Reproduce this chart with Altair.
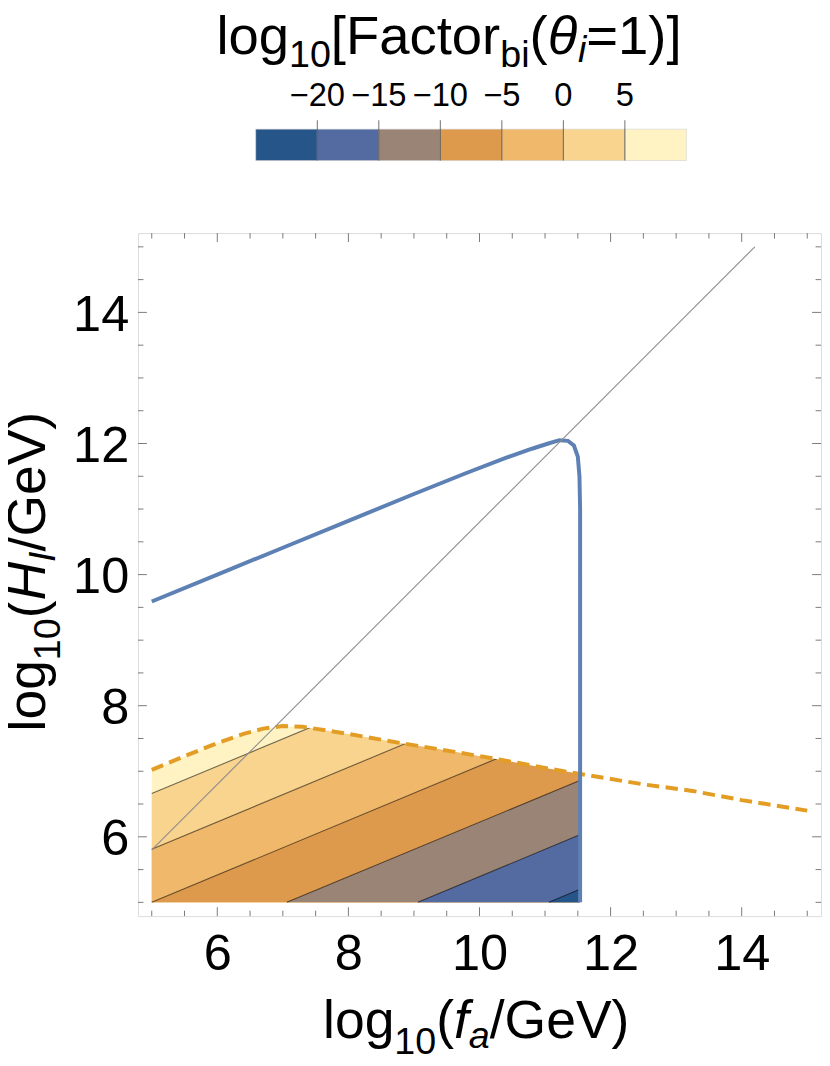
import altair as alt
import pandas as pd

FONT = "Liberation Sans"

# ---------------- values ----------------
x_domain = [4.79, 15.21]
y_domain = [4.79, 15.21]
x_tick_labels = [6, 8, 10, 12, 14]
y_tick_labels = [6, 8, 10, 12, 14]
major_ticks = [6, 8, 10, 12, 14]
minor_ticks = [5, 5.5, 6.5, 7, 7.5, 8.5, 9, 9.5, 10.5, 11, 11.5, 12.5, 13, 13.5, 14.5, 15]

# colour bins of log10[Factor]
bin_lo = [-25, -20, -15, -10, -5, 0, 5]
bin_hi = [-20, -15, -10, -5, 0, 5, 10]
bin_colors = ["#26558A", "#536BA0", "#9A8476", "#DE9A4C", "#EFB86B", "#F9D48E", "#FFF3C4"]
legend_tick_values = [-20, -15, -10, -5, 0, 5]
legend_tick_labels = ["\u221220", "\u221215", "\u221210", "\u22125", "0", "5"]

# filled region
region_x_max = 11.53
region_y_min = 5.0
mask_top = 9.6

# contour lines: level, start point, end point
contour_level = [5, 0, -5, -10, -15, -20]
contour_x0 = [5.0, 5.0, 5.0, 7.06, 9.06, 11.06]
contour_y0 = [6.66, 5.81, 5.0, 5.0, 5.0, 5.0]
contour_x1 = [11.53, 11.53, 11.53, 11.53, 11.53, 11.53]
contour_y1 = [9.38, 8.53, 7.72, 6.86, 6.03, 5.20]

# orange dashed boundary
dashed_x = [5.0, 5.5, 6.0, 6.4, 6.7, 7.0, 7.3, 8.0, 8.8, 9.6, 10.3, 11.0, 11.53, 12.5, 13.25, 14.0, 15.0]
dashed_y = [7.02, 7.23, 7.43, 7.57, 7.65, 7.69, 7.68, 7.57, 7.43, 7.30, 7.18, 7.05, 6.96, 6.80, 6.70, 6.56, 6.40]

# blue curve
blue_x = [5.0, 6.0, 7.0, 8.0, 9.0, 9.8, 10.4, 10.8, 11.05, 11.22, 11.35, 11.44, 11.5, 11.525, 11.535, 11.535]
blue_y = [9.59, 10.0, 10.41, 10.82, 11.23, 11.55, 11.78, 11.92, 12.0, 12.05, 12.04, 11.97, 11.8, 11.5, 11.0, 5.0]

# grey diagonal
diag_x = [5.0, 14.2]
diag_y = [5.8, 15.0]

# ---------------- layout constants ----------------
W, H = 690, 690
OX, OY = 139.3, 230.0     # page position of plot origin
FRAME = "#7a7a7a"
MAJ, MIN = 9, 5.5

bin_names = [f"{a}..{b}" for a, b in zip(bin_lo, bin_hi)]
color_scale = alt.Scale(domain=bin_names, range=bin_colors)

X = alt.X("x:Q", scale=alt.Scale(domain=x_domain, nice=False, zero=False),
          axis=alt.Axis(values=x_tick_labels, ticks=False, tickSize=0, domain=False, grid=False,
                        labelFont=FONT, labelFontSize=51, labelColor="black", labelPadding=13.5,
                        format="d"),
          title=None)
Y = alt.Y("y:Q", scale=alt.Scale(domain=y_domain, nice=False, zero=False),
          axis=alt.Axis(values=y_tick_labels, ticks=False, tickSize=0, domain=False, grid=False,
                        labelFont=FONT, labelFontSize=51, labelColor="black", labelPadding=9.3,
                        labelOffset=3, format="d"),
          title=None)

layers = []

# top band: from region bottom to dashed curve
top_pts = [(x, y) for x, y in zip(dashed_x, dashed_y) if x <= region_x_max]
top_df = pd.DataFrame({"x": [p[0] for p in top_pts], "y": [region_y_min] * len(top_pts),
                       "y2": [p[1] for p in top_pts], "bin": bin_names[-1]})
layers.append(alt.Chart(top_df).mark_area(orient="vertical").encode(
    x=X, y=Y, y2="y2:Q", color=alt.Color("bin:N", scale=color_scale, legend=None)))

# bands painted under each contour line (upper level k -> bin [k-5, k])
for lev, x0, y0, x1, y1 in zip(contour_level, contour_x0, contour_y0, contour_x1, contour_y1):
    name = bin_names[bin_hi.index(lev)]
    df = pd.DataFrame({"x": [x0, x1], "y": [region_y_min, region_y_min], "y2": [y0, y1], "bin": name})
    layers.append(alt.Chart(df).mark_area(orient="vertical").encode(
        x=X, y=Y, y2="y2:Q", color=alt.Color("bin:N", scale=color_scale, legend=None)))

# contour lines
rows = []
for lev, x0, y0, x1, y1 in zip(contour_level, contour_x0, contour_y0, contour_x1, contour_y1):
    rows += [{"x": x0, "y": y0, "lev": lev, "o": 0}, {"x": x1, "y": y1, "lev": lev, "o": 1}]
layers.append(alt.Chart(pd.DataFrame(rows)).mark_line(color="#000000", opacity=0.55, strokeWidth=1.1).encode(
    x=X, y=Y, detail="lev:N", order="o:Q"))

# white mask above the dashed boundary
mask_df = pd.DataFrame({"x": [p[0] for p in top_pts], "y": [p[1] for p in top_pts],
                        "y2": [mask_top] * len(top_pts)})
layers.append(alt.Chart(mask_df).mark_area(orient="vertical", color="white").encode(x=X, y=Y, y2="y2:Q"))

# dashed orange line
d_df = pd.DataFrame({"x": dashed_x, "y": dashed_y, "o": range(len(dashed_x))})
layers.append(alt.Chart(d_df).mark_line(color="#E39D25", strokeWidth=4, strokeDash=[12.5, 6.5]).encode(
    x=X, y=Y, order="o:Q"))

# blue curve
b_df = pd.DataFrame({"x": blue_x, "y": blue_y, "o": range(len(blue_x))})
layers.append(alt.Chart(b_df).mark_line(color="#5E81B5", strokeWidth=4).encode(x=X, y=Y, order="o:Q"))

# diagonal
g_df = pd.DataFrame({"x": diag_x, "y": diag_y})
layers.append(alt.Chart(g_df).mark_line(color="#8C8C8C", strokeWidth=1.1).encode(x=X, y=Y))

# inward ticks on all sides
for vals, L in ((major_ticks, MAJ), (minor_ticks, MIN)):
    dfx = pd.DataFrame({"x": vals})
    dfy = pd.DataFrame({"y": vals})
    layers.append(alt.Chart(dfx).mark_rule(color=FRAME, strokeWidth=1).encode(
        x=X, y=alt.value(H), y2=alt.value(H - L)))
    layers.append(alt.Chart(dfx).mark_rule(color=FRAME, strokeWidth=1).encode(
        x=X, y=alt.value(0), y2=alt.value(L)))
    layers.append(alt.Chart(dfy).mark_rule(color=FRAME, strokeWidth=1).encode(
        y=Y, x=alt.value(0), x2=alt.value(L)))
    layers.append(alt.Chart(dfy).mark_rule(color=FRAME, strokeWidth=1).encode(
        y=Y, x=alt.value(W), x2=alt.value(W - L)))

# ---------------- text with sub-scripts ----------------
CW = {'l': 222, 'o': 556, 'g': 556, '1': 556, '0': 556, '(': 333, ')': 333, '[': 278, ']': 278,
      'F': 611, 'a': 556, 'c': 500, 't': 278, 'r': 333, 'b': 556, 'i': 222, '=': 584, '/': 278,
      'G': 778, 'e': 556, 'V': 667, 'H': 722, 'I': 278, 'f': 278, '\u03b8': 556}


def tw(s, size):
    return sum(CW.get(c, 556) for c in s) * size / 1000.0


def frag(text, x, y, size, italic=False, angle=0):
    return alt.Chart(pd.DataFrame({"t": [text]})).mark_text(
        align="left", baseline="alphabetic", font=FONT, fontSize=size,
        fontStyle="italic" if italic else "normal", angle=angle, color="black").encode(
        text="t:N", x=alt.value(x), y=alt.value(y))


def hrow(frags, x0, base):
    out, x = [], x0
    for txt, size, dy, it in frags:
        out.append(frag(txt, x, base + dy, size, it))
        x += tw(txt, size)
    return out


def vrow(frags, y0, base):
    out, y = [], y0
    for txt, size, dy, it in frags:
        out.append(frag(txt, base + dy, y, size, it, angle=270))
        y -= tw(txt, size)
    return out


# legend title
LM, LS = 55, 38
leg_title = [("log", LM, 0, False), ("10", LS, 13, False), ("[Factor", LM, 0, False),
             ("bi", LS, 13, False), ("(", LM, 0, False), ("\u03b8", LM, 0, True),
             ("i", LS, 8, True), ("=1)]", LM, 0, False)]
layers += hrow(leg_title, 218.5 - OX, 49 - OY)

# x axis title
AM, AS = 54, 38
xt = [("log", AM, 0, False), ("10", AS, 16, False), ("(", AM, 0, False), ("f", AM, 0, True),
      ("a", AS, 10, True), ("/GeV)", AM, 0, False)]
xw = sum(tw(t, s) for t, s, _, _ in xt)
layers += hrow(xt, 481 - OX - xw / 2, 1043.3 - OY)

# y axis title
yt = [("log", AM, 0, False), ("10", AS, 16, False), ("(", AM, 0, False), ("H", AM, 0, True),
      ("I", AS, 10, True), ("/GeV)", AM, 0, False)]
yw = sum(tw(t, s) for t, s, _, _ in yt)
layers += vrow(yt, 572 - OY + yw / 2, 45 - OX)

main = alt.layer(*layers)

# ---------------- colour bar legend ----------------
LX = alt.Scale(domain=[bin_lo[0], bin_hi[-1]], range=[258.3 - OX, 693.3 - OX])
leg_df = pd.DataFrame({"lo": bin_lo, "hi": bin_hi, "bin": bin_names})
tick_df = pd.DataFrame({"v": legend_tick_values, "lab": legend_tick_labels})
bar = alt.Chart(leg_df).mark_rect(stroke="#c8c8c8", strokeWidth=0.5).encode(
    x=alt.X("lo:Q", scale=LX, axis=None), x2="hi:Q",
    y=alt.value(125 - OY), y2=alt.value(156.7 - OY),
    color=alt.Color("bin:N", scale=color_scale, legend=None))
bticks = alt.Chart(tick_df).mark_rule(color="#333333", opacity=0.7, strokeWidth=1).encode(
    x=alt.X("v:Q", scale=LX, axis=None), y=alt.value(116 - OY), y2=alt.value(156.7 - OY))
blabels = alt.Chart(tick_df).mark_text(font=FONT, fontSize=33, align="center", baseline="alphabetic",
                                       color="black").encode(
    x=alt.X("v:Q", scale=LX, axis=None), y=alt.value(101.7 - OY), text="lab:N")
legend = alt.layer(bar, bticks, blabels)

chart = alt.layer(main, legend).resolve_scale(x="independent", color="shared").properties(
    width=W, height=H,
    autosize=alt.AutoSizeParams(type="none"),
    padding={"left": OX - 8, "top": OY - 8, "right": 1, "bottom": 143},
).configure_view(stroke=FRAME, strokeWidth=1).configure(background="white")

chart.save("out.html", embed_options={"renderer": "svg", "actions": False})
